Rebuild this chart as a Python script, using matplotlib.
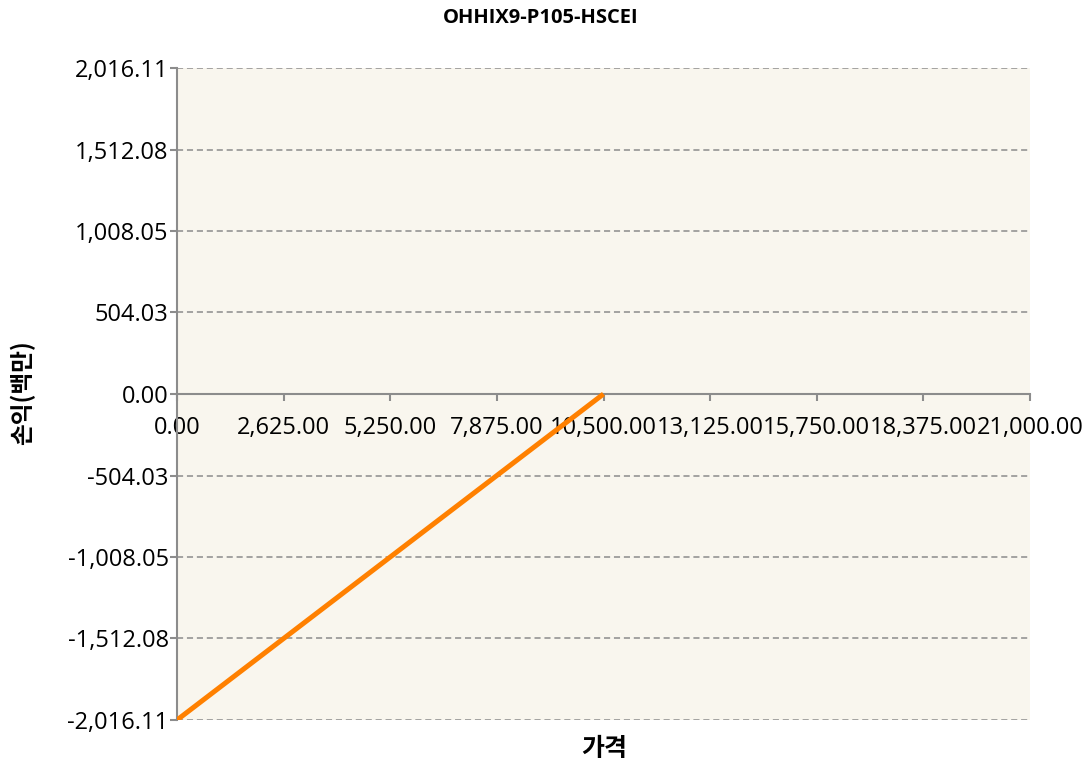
import matplotlib
matplotlib.use("Agg")
import matplotlib.pyplot as plt
from matplotlib.ticker import FixedLocator

title = "OHHIX9-P105-HSCEI"
x_label = "가격"
y_label = "손익(백만)"
prices = [0.0, 2625.0, 5250.0, 7875.0, 10500.0]
pnl = [-2016.11, -1512.08, -1008.05, -504.03, 0.0]
x_ticks = [0, 2625, 5250, 7875, 10500, 13125, 15750, 18375, 21000]
y_ticks = [-2016.11, -1512.08, -1008.05, -504.03, 0.0, 504.03, 1008.05, 1512.08, 2016.11]

plt.rcParams['font.family'] = ['Open Sans', 'Noto Sans CJK KR', 'DejaVu Sans']

fig = plt.figure(figsize=(10.9, 7.67), dpi=100)
ax = fig.add_axes([177/1090, 1-720/767, (1030-177)/1090, (720-68)/767])
ax.set_facecolor('#F9F6EE')

ax.plot(prices, pnl, color='#FF8000', lw=3.6, solid_capstyle='butt', zorder=3)

ax.set_xlim(0, 21000)
ax.set_ylim(-2016.11, 2016.11)
ax.xaxis.set_major_locator(FixedLocator(x_ticks))
ax.yaxis.set_major_locator(FixedLocator(y_ticks))
ax.set_xticklabels([f"{v:,.2f}" for v in x_ticks])
ax.set_yticklabels([f"{v:,.2f}" for v in y_ticks])

ax.grid(axis='y', color='#8C8C8C', linestyle=(0, (4, 2.5)), lw=1.1, zorder=1)
ax.spines['top'].set_visible(False)
ax.spines['right'].set_visible(False)
ax.spines['bottom'].set_position(('data', 0))
ax.spines['bottom'].set_color('#8C8C8C')
ax.spines['bottom'].set_linewidth(1.5)
ax.spines['bottom'].set_zorder(2)
ax.spines['left'].set_color('#8C8C8C')
ax.spines['left'].set_linewidth(1.5)

ax.tick_params(axis='x', direction='out', length=5, width=1.5, color='#8C8C8C',
               labelsize=17, pad=11)
ax.tick_params(axis='y', direction='out', length=5, width=1.5, color='#8C8C8C',
               labelsize=17, pad=1)

fig.text(541/1090, 1-18/767, title, ha='center', va='center', fontsize=14.5,
         fontweight='bold')
fig.text(604/1090, 1-749/767, x_label, ha='center', va='center', fontsize=18,
         fontweight='bold', family=['Noto Sans CJK KR', 'DejaVu Sans'])
fig.text(22/1090, 1-393/767, y_label, ha='center', va='center', fontsize=17,
         fontweight='bold', rotation=90, family=['Noto Sans CJK KR', 'DejaVu Sans'])

fig.savefig('out.png', dpi=100)
